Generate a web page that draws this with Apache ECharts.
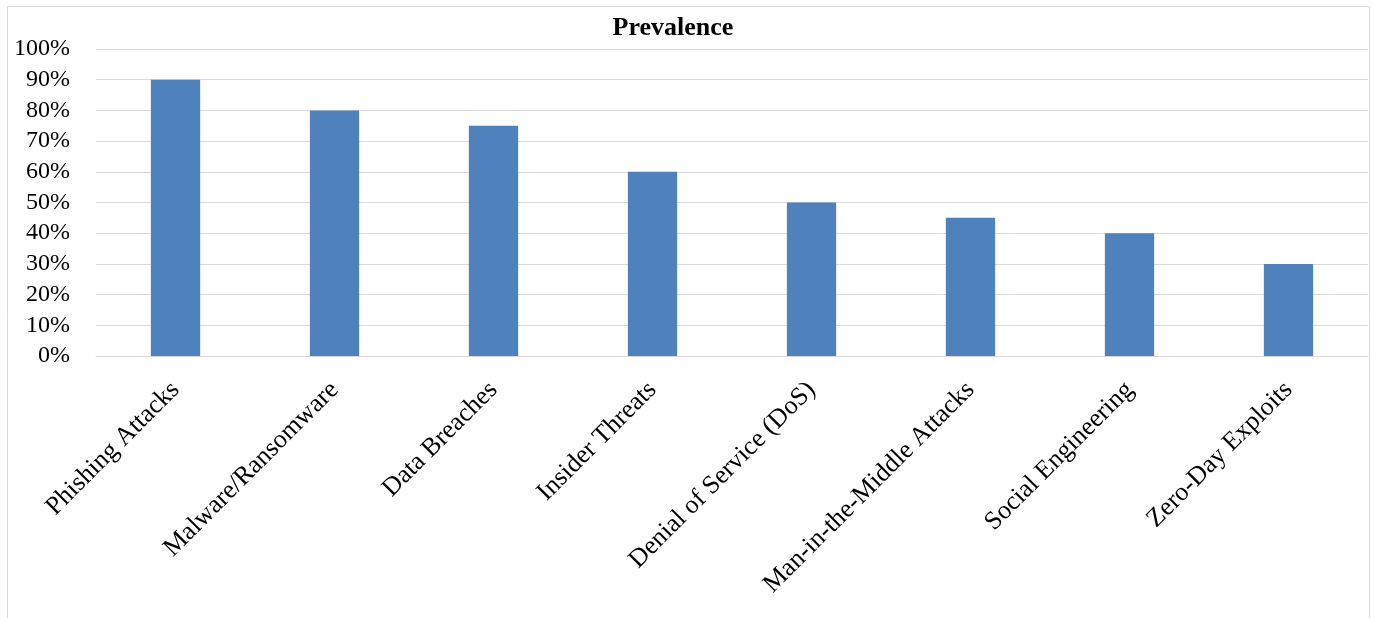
<!DOCTYPE html>
<html>
<head>
<meta charset="utf-8">
<script src="https://cdn.jsdelivr.net/npm/echarts@6/dist/echarts.min.js"></script>
<style>
html,body{margin:0;padding:0;background:#fff;}
#chart{width:1373px;height:618px;}
</style>
</head>
<body>
<div id="chart"></div>
<script>
const categories = ["Phishing Attacks","Malware/Ransomware","Data Breaches","Insider Threats","Denial of Service (DoS)","Man-in-the-Middle Attacks","Social Engineering","Zero-Day Exploits"];
const prevalence = [90, 80, 75, 60, 50, 45, 40, 30];
const yTicks = { min: 0, max: 100, interval: 10 };
const titleText = "Prevalence";

const chart = echarts.init(document.getElementById('chart'));
const font = "'Liberation Serif','Times New Roman',serif";
chart.setOption({
  animation: false,
  backgroundColor: '#fff',
  graphic: [{
    type: 'rect', silent: true,
    shape: { x: 7.5, y: 6.5, width: 1362, height: 700 },
    style: { fill: 'none', stroke: '#d9d9d9', lineWidth: 1 }
  }, {
    type: 'text', silent: true, x: 673, y: 28,
    style: { text: titleText, align: 'center', verticalAlign: 'middle',
      font: "bold 26px 'Liberation Serif','Times New Roman',serif", fill: '#000' }
  }],
  grid: { left: 96, right: 5, top: 49, bottom: 262, containLabel: false },
  xAxis: {
    type: 'category', data: categories,
    axisLine: { show: true, lineStyle: { color: '#d9d9d9', width: 1 } },
    axisTick: { show: false },
    axisLabel: {
      rotate: 45, interval: 0, margin: 30, verticalAlign: 'middle',
      fontFamily: font, fontSize: 26, color: '#000'
    }
  },
  yAxis: {
    type: 'value', min: yTicks.min, max: yTicks.max, interval: yTicks.interval,
    axisLine: { show: false }, axisTick: { show: false },
    splitLine: { lineStyle: { color: '#d9d9d9', width: 1 } },
    axisLabel: { formatter: '{value}%', margin: 26, fontFamily: font, fontSize: 24, color: '#000' }
  },
  series: [{
    type: 'bar', data: prevalence, barWidth: '31%',
    itemStyle: { color: '#4f81bd' }
  }]
});
</script>
</body>
</html>
